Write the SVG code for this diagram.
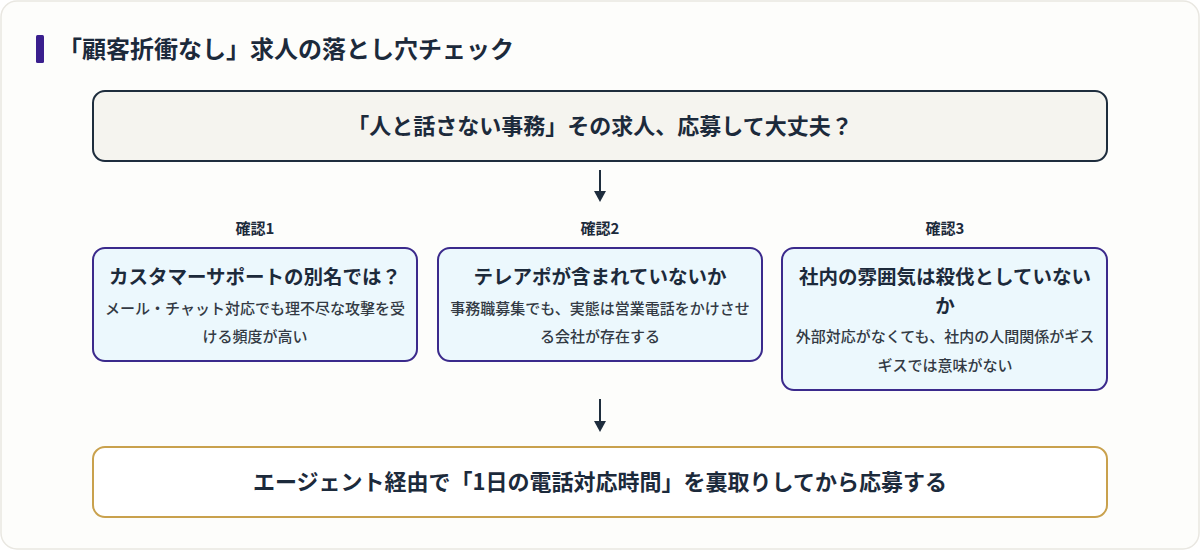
<svg xmlns="http://www.w3.org/2000/svg" width="1200" height="550" viewBox="0 0 1200 550">
<defs>
<style>
text{font-family:"Noto Sans CJK JP","Noto Sans",sans-serif;fill:#1c2a3b;text-anchor:middle}
.b{font-weight:700}
.h{font-size:24px;text-anchor:start}
.main{font-size:22px}
.lbl{font-size:15px}
.t{font-size:19.5px}
.d{font-size:15px;fill:#333a44;font-weight:500}
.chk{fill:#ecf8fd;stroke:#3b2a8c;stroke-width:2}
.conn{stroke:#1e2d3d;stroke-width:2;fill:none}
</style>
</defs>
<rect x="1" y="1" width="1198" height="548" rx="16" fill="#fdfdfb" stroke="#e9e7e1" stroke-width="1.5"/>
<g id="title">
<rect x="36" y="35" width="8" height="28" rx="1.5" fill="#3a1f8e"/>
<text class="h b" x="58" y="58">「顧客折衝なし」求人の落とし穴チェック</text>
</g>
<g id="question">
<rect x="93" y="91" width="1014" height="70" rx="12" fill="#f5f4ef" stroke="#1e2d3d" stroke-width="2"/>
<text class="main b" x="600" y="134">「人と話さない事務」その求人、応募して大丈夫？</text>
</g>
<g id="connectors">
<line class="conn" x1="600" y1="170" x2="600" y2="192"/>
<path d="M594,191 L606,191 L600,202 z" fill="#1e2d3d"/>
<line class="conn" x1="600" y1="399" x2="600" y2="422"/>
<path d="M594,421 L606,421 L600,432 z" fill="#1e2d3d"/>
</g>
<g id="check1">
<text class="lbl b" x="255" y="234">確認1</text>
<rect class="chk" x="93" y="248" width="324" height="113" rx="12"/>
<text class="t b" x="255" y="284">カスタマーサポートの別名では？</text>
<text class="d" x="255" y="314">メール・チャット対応でも理不尽な攻撃を受</text>
<text class="d" x="255" y="342">ける頻度が高い</text>
</g>
<g id="check2">
<text class="lbl b" x="600" y="234">確認2</text>
<rect class="chk" x="438" y="248" width="324" height="113" rx="12"/>
<text class="t b" x="600" y="284">テレアポが含まれていないか</text>
<text class="d" x="600" y="314">事務職募集でも、実態は営業電話をかけさせ</text>
<text class="d" x="600" y="342">る会社が存在する</text>
</g>
<g id="check3">
<text class="lbl b" x="945" y="234">確認3</text>
<rect class="chk" x="782" y="248" width="325" height="142" rx="12"/>
<text class="t b" x="945" y="284">社内の雰囲気は殺伐としていない</text>
<text class="t b" x="945" y="313">か</text>
<text class="d" x="945" y="342">外部対応がなくても、社内の人間関係がギス</text>
<text class="d" x="945" y="371">ギスでは意味がない</text>
</g>
<g id="action">
<rect x="93" y="447" width="1014" height="70" rx="12" fill="#ffffff" stroke="#c9a14d" stroke-width="2"/>
<text class="main b" x="600" y="490">エージェント経由で「1日の電話対応時間」を裏取りしてから応募する</text>
</g>
</svg>
